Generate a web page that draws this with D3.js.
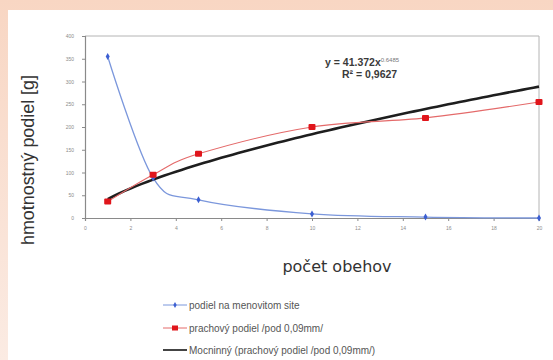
<!DOCTYPE html>
<html>
<head>
<meta charset="utf-8">
<script src="https://cdn.jsdelivr.net/npm/d3@7"></script>
<style>
  html, body { margin: 0; padding: 0; }
  body { width: 553px; height: 360px; overflow: hidden; }
  svg { display: block; }
</style>
</head>
<body>
<svg id="chart" width="553" height="360"></svg>
<script>
// Number of passes (x) for each measurement
const passes = [1, 3, 5, 10, 15, 20];
// Share retained on the nominal sieve [g]
const sieveShare = [355, 88, 40, 9, 2, 0];
// Dust share below 0.09 mm [g]
const dustShare = [36, 95, 141, 200, 220, 255];
// Power trendline of the dust share: y = a * x^b
const trendA = 41.372;
const trendB = 0.6485;
const trendR2 = "0,9627";
const xTicks = [0, 2, 4, 6, 8, 10, 12, 14, 16, 18, 20];
const yTicks = [0, 50, 100, 150, 200, 250, 300, 350, 400];
const legendLabels = [
  "podiel na menovitom site",
  "prachový podiel /pod 0,09mm/",
  "Mocninný (prachový podiel /pod 0,09mm/)"
];

const svg = d3.select("#chart");

// page background: warm peach gradient with a white card
const defs = svg.append("defs");
const bg = defs.append("linearGradient").attr("id", "bg")
  .attr("x1", 0).attr("y1", 0).attr("x2", 0).attr("y2", 1);
bg.append("stop").attr("offset", "0%").attr("stop-color", "#f8d6c3");
bg.append("stop").attr("offset", "100%").attr("stop-color", "#fbebe3");
svg.append("rect").attr("width", 553).attr("height", 360).attr("fill", "url(#bg)");
svg.append("rect").attr("x", 8).attr("y", 10).attr("width", 545).attr("height", 350).attr("fill", "#ffffff");

const x = d3.scaleLinear().domain([0, 20]).range([85, 539]);
const y = d3.scaleLinear().domain([0, 400]).range([218, 36]);

// plot frame (top and right edges)
svg.append("path")
  .attr("d", `M${x(0)},${y(400)}H${x(20)}V${y(0)}`)
  .attr("fill", "none").attr("stroke", "#b4b4b4").attr("stroke-width", 1);

const yAxis = svg.append("g").attr("transform", `translate(${x(0)},0)`)
  .call(d3.axisLeft(y).tickValues(yTicks).tickSize(3).tickPadding(8));
const xAxis = svg.append("g").attr("transform", `translate(0,${y(0)})`)
  .call(d3.axisBottom(x).tickValues(xTicks).tickSize(3).tickPadding(5));
[yAxis, xAxis].forEach(g => {
  g.select(".domain").attr("stroke", "#8a8a8a").attr("stroke-width", 1.2);
  g.selectAll(".tick line").attr("stroke", "#8a8a8a");
  g.selectAll(".tick text").attr("fill", "#8c8c8c")
    .style("font-family", "Liberation Sans, Arial, sans-serif").style("font-size", "5px");
});

// series: sieve share (blue, smoothed)
const smooth = d3.line().x(d => x(d[0])).y(d => y(d[1])).curve(d3.curveCardinal.tension(0));
const blueData = passes.map((p, i) => [p, sieveShare[i]]);
const redData = passes.map((p, i) => [p, dustShare[i]]);

svg.append("path").datum(blueData).attr("d", smooth)
  .attr("fill", "none").attr("stroke", "#7b97dc").attr("stroke-width", 1.3);

// power trendline, evaluated from its stated equation
const trendX = d3.range(1, 20.001, 0.25);
const trendLine = d3.line().x(d => x(d)).y(d => y(trendA * Math.pow(d, trendB)));
svg.append("path").datum(trendX).attr("d", trendLine)
  .attr("fill", "none").attr("stroke", "#1e1e1e").attr("stroke-width", 2.6);

svg.append("path").datum(redData).attr("d", smooth)
  .attr("fill", "none").attr("stroke", "#e46a6a").attr("stroke-width", 1.1);

// markers
svg.selectAll(".bm").data(blueData).enter().append("path")
  .attr("transform", d => `translate(${x(d[0])},${y(d[1])})`)
  .attr("d", d3.symbol(d3.symbolDiamond, 14)).attr("fill", "#3c5fd2");
svg.selectAll(".rm").data(redData).enter().append("rect")
  .attr("x", d => x(d[0]) - 3.5).attr("y", d => y(d[1]) - 3)
  .attr("width", 7).attr("height", 6).attr("rx", 1).attr("fill", "#e0151b");

// trendline equation
const eq = svg.append("text").attr("x", 325).attr("y", 66)
  .style("font-family", "Liberation Sans, Arial, sans-serif").style("font-weight", "bold")
  .style("font-size", "10.5px").attr("fill", "#3a3a3a");
eq.append("tspan").text(`y = ${trendA}x`);
eq.append("tspan").attr("dy", -4).style("font-size", "6px").style("font-weight", "normal")
  .attr("fill", "#777").text(String(trendB));
svg.append("text").attr("x", 342).attr("y", 78)
  .style("font-family", "Liberation Sans, Arial, sans-serif").style("font-weight", "bold")
  .style("font-size", "10.5px").attr("fill", "#3a3a3a").text(`R² = ${trendR2}`);

// axis titles
svg.append("text").attr("x", 337).attr("y", 272).attr("text-anchor", "middle")
  .style("font-family", "DejaVu Sans, sans-serif").style("font-size", "16px")
  .attr("fill", "#333").text("počet obehov");
svg.append("text").attr("transform", "translate(34,160) rotate(-90)").attr("text-anchor", "middle")
  .style("font-family", "Liberation Sans Narrow, Arial Narrow, Liberation Sans, sans-serif")
  .style("font-size", "18px").attr("fill", "#333")
  .attr("textLength", 170).attr("lengthAdjust", "spacingAndGlyphs")
  .text("hmotnostný podiel [g]");

// legend
const legendY = [305, 328, 350];
const lg = svg.append("g");
const items = lg.selectAll("g").data(legendLabels).enter().append("g")
  .attr("transform", (d, i) => `translate(0,${legendY[i]})`);
items.append("line").attr("x1", 163).attr("x2", 187).attr("y1", 0).attr("y2", 0)
  .attr("stroke", (d, i) => ["#7b97dc", "#e46a6a", "#444"][i])
  .attr("stroke-width", (d, i) => i === 2 ? 2 : 1);
items.filter((d, i) => i === 0).append("path").attr("transform", "translate(175,0)")
  .attr("d", d3.symbol(d3.symbolDiamond, 10)).attr("fill", "#3c5fd2");
items.filter((d, i) => i === 1).append("rect").attr("x", 172).attr("y", -2.5)
  .attr("width", 6).attr("height", 5).attr("fill", "#e0151b");
items.append("text").attr("x", 189).attr("y", 3.5)
  .style("font-family", "Liberation Sans, Arial, sans-serif").style("font-size", "10px")
  .attr("fill", "#555").text(d => d);
</script>
</body>
</html>
